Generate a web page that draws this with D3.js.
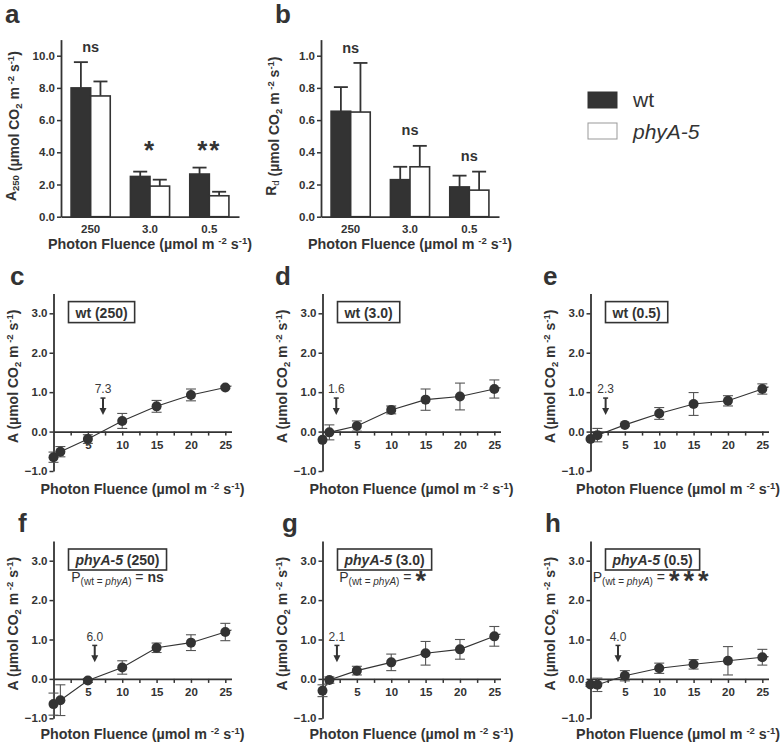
<!DOCTYPE html>
<html><head><meta charset="utf-8">
<script src="https://cdn.jsdelivr.net/npm/d3@7"></script>
<style>
body{margin:0;background:#fff}
svg{display:block}
text{font-family:"Liberation Sans",Arial,Helvetica,sans-serif}
</style>
</head><body>
<svg id="chart" width="781" height="745"></svg>
<script>
// ---------------- DATA ----------------
const barCategories = ["250", "3.0", "0.5"];
const genotypes = ["wt", "phyA-5"];

// panel a: A250
const a250Wt = [8.0, 2.5, 2.65];
const a250WtErr = [1.6, 0.3, 0.4];
const a250Phy = [7.5, 1.9, 1.3];
const a250PhyErr = [0.9, 0.4, 0.25];
const a250Sig = ["ns", "*", "**"];
const a250SigY = [10.25, 3.6, 3.6];
const a250Ticks = [0, 2, 4, 6, 8, 10];

// panel b: Rd
const rdWt = [0.655, 0.23, 0.185];
const rdWtErr = [0.15, 0.08, 0.07];
const rdPhy = [0.65, 0.31, 0.165];
const rdPhyErr = [0.305, 0.13, 0.115];
const rdSig = ["ns", "ns", "ns"];
const rdSigY = [1.015, 0.507, 0.348];
const rdTicks = [0, 0.2, 0.4, 0.6, 0.8, 1.0];

// panels c-h: light response curves
const fluence = [0, 1, 5, 10, 15, 20, 25];
const wt250 = [-0.65, -0.51, -0.19, 0.27, 0.64, 0.93, 1.12];
const wt250Err = [0.13, 0.13, 0.11, 0.19, 0.15, 0.15, 0.03];
const wt30 = [-0.21, -0.02, 0.14, 0.55, 0.81, 0.89, 1.08];
const wt30Err = [0.0, 0.19, 0.13, 0.1, 0.27, 0.34, 0.23];
const wt05 = [-0.19, -0.09, 0.17, 0.46, 0.70, 0.78, 1.08];
const wt05Err = [0.0, 0.17, 0.03, 0.15, 0.29, 0.13, 0.13];
const phy250 = [-0.64, -0.54, -0.04, 0.29, 0.79, 0.92, 1.19];
const phy250Err = [0.28, 0.39, 0.05, 0.17, 0.12, 0.2, 0.22];
const phy30 = [-0.30, -0.03, 0.21, 0.42, 0.65, 0.75, 1.08];
const phy30Err = [0.15, 0.08, 0.11, 0.21, 0.3, 0.25, 0.25];
const phy05 = [-0.14, -0.15, 0.08, 0.27, 0.37, 0.46, 0.55];
const phy05Err = [0.05, 0.17, 0.13, 0.13, 0.12, 0.36, 0.2];

const compPointX = [7.2, 2.0, 2.2, 6.0, 2.1, 4.0];
const compPointLabels = ["7.3", "1.6", "2.3", "6.0", "2.1", "4.0"];
const curveConditions = ["250", "3.0", "0.5", "250", "3.0", "0.5"];
const curveGenotype = ["wt", "wt", "wt", "phyA-5", "phyA-5", "phyA-5"];
const pSig = [null, null, null, "ns", "*", "***"];
const curveYTicks = [-1, 0, 1, 2, 3];
const curveXTicks = [2.5, 5, 7.5, 10, 12.5, 15, 17.5, 20, 22.5, 25];

// ---------------- STYLE / LAYOUT ----------------
const C = "#333";
const W = 781;
const svg = d3.select("#chart");

function rich(textSel, segs, base) {
  let prev = 0;
  segs.forEach(s => {
    const sh = s.sh || 0;
    textSel.append("tspan").text(s.t)
      .attr("dy", sh - prev)
      .style("font-size", (s.s || base.s) + "px")
      .style("font-weight", (s.b === undefined ? base.b : s.b) ? "bold" : "normal")
      .style("font-style", s.i ? "italic" : "normal")
      .style("letter-spacing", s.ls ? s.ls + "px" : null);
    prev = sh;
  });
  return textSel;
}
function styleAxis(g) {
  g.select(".domain").attr("stroke", C).attr("stroke-width", 1.8);
  g.selectAll(".tick line").attr("stroke", C).attr("stroke-width", 1.5);
  g.selectAll(".tick text").attr("fill", C)
    .style("font-size", "11.5px").style("font-weight", "bold")
    .style("font-family", "'Liberation Sans', Arial, sans-serif");
}
function letter(x, y, t) {
  svg.append("text").attr("x", x).attr("y", y).text(t)
    .attr("fill", C).style("font-size", "26px").style("font-weight", "bold");
}
function unitSegs(prefix) {
  return prefix.concat([
    {t: " (µmol CO"}, {t: "2", s: 9.5, sh: 3}, {t: " m"}, {t: " -2", s: 9.5, sh: -5},
    {t: " s"}, {t: "-1", s: 9.5, sh: -5}, {t: ")"}
  ]);
}
const xTitleSegs = [{t: "Photon Fluence (µmol m "}, {t: "-2", s: 9.5, sh: -5}, {t: " s"}, {t: "-1", s: 9.5, sh: -5}, {t: ")"}];
function xTitle(cx, y) {
  const t = rich(svg.append("text").attr("x", cx).attr("y", y).attr("text-anchor", "middle").attr("fill", C),
    xTitleSegs, {s: 14.3, b: true});
  const w = t.node().getComputedTextLength();
  if (cx + w / 2 > W - 1) t.attr("x", W - 1 - w / 2);
}
function yTitle(x, cy, segs) {
  rich(svg.append("text").attr("transform", `translate(${x},${cy}) rotate(-90)`)
    .attr("text-anchor", "middle").attr("fill", C), segs, {s: 14, b: true});
}

// ---------------- BAR PANELS ----------------
const barPanels = [
  {letter: "a", lx: 5, ax: 61, wt: a250Wt, wtE: a250WtErr, ph: a250Phy, phE: a250PhyErr, sig: a250Sig, sigY: a250SigY,
   ticks: a250Ticks, max: 11, ylab: unitSegs([{t: "A"}, {t: "250", s: 9.5, sh: 3}, {t: "", sh: 0}])},
  {letter: "b", lx: 275, ax: 321, wt: rdWt, wtE: rdWtErr, ph: rdPhy, phE: rdPhyErr, sig: rdSig, sigY: rdSigY,
   ticks: rdTicks, max: 1.1, ylab: unitSegs([{t: "R"}, {t: "d", s: 9.5, sh: 3, b: false}, {t: "", sh: 0}])}
];
const barW = 178, barBottom = 216.7, barTop = 39.6;

barPanels.forEach(p => {
  const g = svg.append("g");
  const x = d3.scaleBand().domain(barCategories).range([p.ax, p.ax + barW]).paddingInner(0.34).paddingOuter(0.17);
  const xs = d3.scaleBand().domain(genotypes).range([0, x.bandwidth()]);
  const y = d3.scaleLinear().domain([0, p.max]).range([barBottom, barTop]);
  const rows = barCategories.map((c, i) => [
    {c, gt: "wt", v: p.wt[i], e: p.wtE[i]},
    {c, gt: "phyA-5", v: p.ph[i], e: p.phE[i]}
  ]).flat();
  rows.forEach(r => {
    const cx = x(r.c) + xs(r.gt) + xs.bandwidth() / 2;
    g.append("line").attr("x1", cx).attr("x2", cx).attr("y1", y(r.v)).attr("y2", y(r.v + r.e))
      .attr("stroke", C).attr("stroke-width", 1.8);
    g.append("line").attr("x1", cx - 7).attr("x2", cx + 7).attr("y1", y(r.v + r.e)).attr("y2", y(r.v + r.e))
      .attr("stroke", C).attr("stroke-width", 1.8);
  });
  g.selectAll("rect.bar").data(rows).join("rect")
    .attr("x", r => x(r.c) + xs(r.gt)).attr("width", xs.bandwidth())
    .attr("y", r => y(r.v)).attr("height", r => y(0) - y(r.v))
    .attr("fill", r => r.gt === "wt" ? C : "#fff")
    .attr("stroke", C).attr("stroke-width", 1.6);
  const yA = g.append("g").attr("transform", `translate(${p.ax},0)`)
    .call(d3.axisLeft(y).tickValues(p.ticks).tickFormat(d3.format(".1f")).tickSize(4).tickPadding(2).tickSizeOuter(0));
  styleAxis(yA);
  const xA = g.append("g").attr("transform", `translate(0,${y(0)})`)
    .call(d3.axisBottom(x).tickSize(0).tickPadding(8));
  styleAxis(xA);
  barCategories.forEach((c, i) => {
    const isStar = p.sig[i].includes("*");
    g.append("text").attr("x", x(c) + x.bandwidth() / 2).attr("y", y(p.sigY[i]))
      .attr("text-anchor", "middle").attr("fill", C)
      .style("font-size", isStar ? "26px" : "14.5px").style("font-weight", "bold")
      .style("letter-spacing", isStar ? "2px" : "0px")
      .text(p.sig[i]);
  });
  letter(p.lx, 23, p.letter);
  yTitle(p.ax - 45, (barTop + barBottom) / 2 - 2, p.ylab);
  xTitle(p.ax + barW / 2, 248.5);
});

// legend
const leg = svg.append("g");
genotypes.forEach((gt, i) => {
  leg.append("rect").attr("x", 588).attr("y", 92 + i * 31).attr("width", 29).attr("height", 16)
    .attr("fill", gt === "wt" ? C : "#fff").attr("stroke", gt === "wt" ? C : "#999").attr("stroke-width", 1);
  leg.append("text").attr("x", 633).attr("y", 107 + i * 32).text(gt)
    .attr("fill", C).style("font-size", "21px").style("font-style", gt === "wt" ? "normal" : "italic");
});

// ---------------- CURVE PANELS ----------------
const curveSeries = [wt250, wt30, wt05, phy250, phy30, phy05];
const curveErrors = [wt250Err, wt30Err, wt05Err, phy250Err, phy30Err, phy05Err];
const colAx = [53.5, 322.5, 590.5];
const letterX = [10, 275, 543, 18, 282, 545];
const rowsL = [
  {top: 293.6, bottom: 471, letterY: 285, titleY: 494},
  {top: 541, bottom: 718.3, letterY: 531.5, titleY: 739}
];
const curveW = 178;

curveSeries.forEach((vals, k) => {
  const ax = colAx[k % 3], R = rowsL[Math.floor(k / 3)];
  const g = svg.append("g");
  const x = d3.scaleLinear().domain([0, 25.9]).range([ax, ax + curveW]);
  const y = d3.scaleLinear().domain([-1, 3.5]).range([R.bottom, R.top]);
  const pts = fluence.map((f, i) => ({f, v: vals[i], e: curveErrors[k][i]}));

  const xA = g.append("g").attr("transform", `translate(0,${y(0)})`)
    .call(d3.axisBottom(x).tickValues(curveXTicks).tickFormat(d => d % 5 === 0 ? d : "")
      .tickSize(4).tickPadding(5).tickSizeOuter(0));
  styleAxis(xA);
  const yA = g.append("g").attr("transform", `translate(${ax},0)`)
    .call(d3.axisLeft(y).tickValues(curveYTicks).tickFormat(d3.format(".1f")).tickSize(4).tickPadding(2).tickSizeOuter(0));
  styleAxis(yA);

  const n = pts.length;
  const slope = (pts[n - 1].v - pts[n - 2].v) / (pts[n - 1].f - pts[n - 2].f);
  const xEnd = x.domain()[1];
  const linePts = pts.map(p => [p.f, p.v]).concat([[xEnd, pts[n - 1].v + slope * (xEnd - pts[n - 1].f)]]);
  g.append("path").attr("d", d3.line().x(d => x(d[0])).y(d => y(d[1]))(linePts))
    .attr("fill", "none").attr("stroke", C).attr("stroke-width", 1.1);

  pts.filter(p => p.e > 0).forEach(p => {
    const cx = x(p.f);
    g.append("line").attr("x1", cx).attr("x2", cx).attr("y1", y(p.v - p.e)).attr("y2", y(p.v + p.e))
      .attr("stroke", "#555").attr("stroke-width", 1.1);
    [p.v - p.e, p.v + p.e].forEach(v => g.append("line")
      .attr("x1", cx - 5).attr("x2", cx + 5).attr("y1", y(v)).attr("y2", y(v))
      .attr("stroke", "#555").attr("stroke-width", 1.1));
  });
  g.selectAll("circle").data(pts).join("circle")
    .attr("cx", p => x(p.f)).attr("cy", p => y(p.v)).attr("r", 5).attr("fill", C);

  const px = x(compPointX[k]), yT = y(0.85), yTip = y(0.42);
  g.append("line").attr("x1", px).attr("x2", px).attr("y1", yT).attr("y2", yTip - 5)
    .attr("stroke", C).attr("stroke-width", 2);
  g.append("line").attr("x1", px - 2.5).attr("x2", px + 2.5).attr("y1", yT).attr("y2", yT)
    .attr("stroke", C).attr("stroke-width", 1.5);
  g.append("path").attr("d", `M${px - 3.5},${yTip - 7}L${px + 3.5},${yTip - 7}L${px},${yTip}Z`).attr("fill", C);
  g.append("text").attr("x", px).attr("y", y(0.97)).attr("text-anchor", "middle")
    .attr("fill", "#3a3a3a").style("font-size", "12px").text(compPointLabels[k]);

  const bx = ax + 15, by = R.top + 8;
  const tt = g.append("text").attr("x", bx + 7).attr("y", by + 16).attr("fill", C);
  const gtSegs = curveGenotype[k] === "wt" ? [{t: "wt"}] : [{t: "phyA-5", i: true}];
  rich(tt, gtSegs.concat([{t: " (" + curveConditions[k] + ")"}]), {s: 14, b: true});
  const tw = tt.node().getComputedTextLength();
  g.append("rect").attr("x", bx).attr("y", by).attr("width", tw + 14).attr("height", 21)
    .attr("fill", "none").attr("stroke", C).attr("stroke-width", 1.6);

  if (pSig[k]) {
    const star = pSig[k].includes("*");
    const pt = g.append("text").attr("x", bx + (tw + 14) / 2).attr("y", by + 33)
      .attr("text-anchor", "middle").attr("fill", C);
    rich(pt, [
      {t: "P"}, {t: "(wt = ", s: 10, sh: 3}, {t: "phyA", s: 10, sh: 3, i: true}, {t: ")", s: 10, sh: 3},
      {t: " = ", sh: 0}, {t: pSig[k], b: true, s: star ? 27 : 14, sh: star ? 8 : 0, ls: star ? 4 : 0}
    ], {s: 14, b: false});
  }

  letter(letterX[k], R.letterY, "cdefgh"[k]);
  yTitle(ax - 36, (R.top + R.bottom) / 2 - 6, unitSegs([{t: "A"}]));
  xTitle(ax + curveW / 2, R.titleY);
});
</script>
</body></html>
